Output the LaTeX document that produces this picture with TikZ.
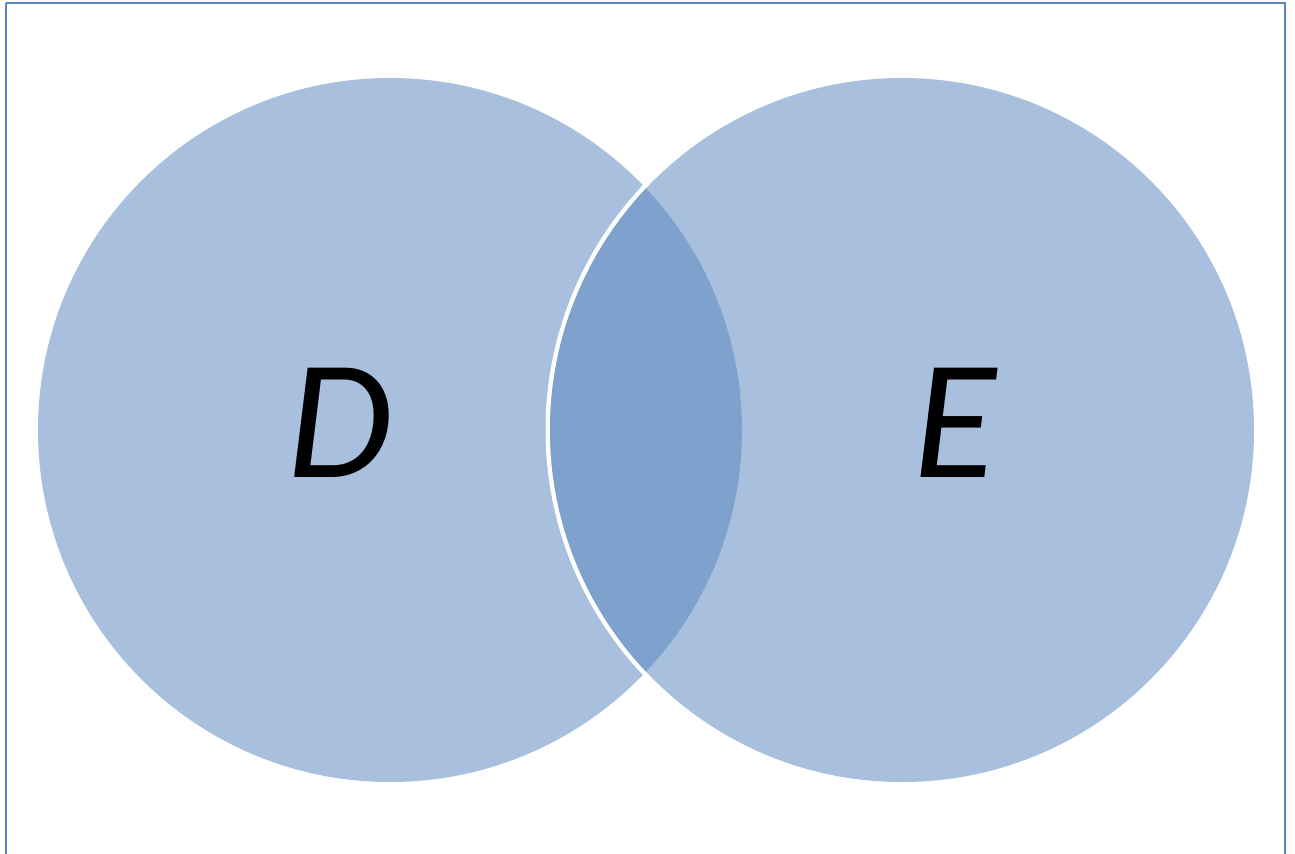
\documentclass[tikz,border=0pt]{standalone}
\usepackage{fontspec}
\setmainfont{Carlito}
\definecolor{chiaro}{HTML}{A8C0DE}
\definecolor{scuro}{HTML}{7EA2CD}
\definecolor{bordo}{HTML}{5B85C0}
\begin{document}
\begin{tikzpicture}[x=0.02cm,y=-0.02cm,
    insieme/.style={font=\fontsize{97}{100}\selectfont\itshape,inner sep=0pt}]
        \useasboundingbox(0,0)rectangle(1295,853);
        %cornice
            \draw[bordo,line width=0.04cm](6,3)--(1285,3)--(1285,870)(6,870)--(6,3);
        %insieme D
            \fill[chiaro](390,430)circle(352);
        %bordo bianco di E
            \draw[white,line width=0.1cm](902,430)circle(354);
        %insieme E
            \fill[chiaro](902,430)circle(352);
        %intersezione
            \begin{scope}
                \clip(390,430)circle(352);
                \fill[scuro](902,430)circle(352);
            \end{scope}
        %etichette
            \node[insieme](D)at(340,423){D};
            \node[insieme](E)at(955,423){E};
        \end{tikzpicture}
\end{document}
